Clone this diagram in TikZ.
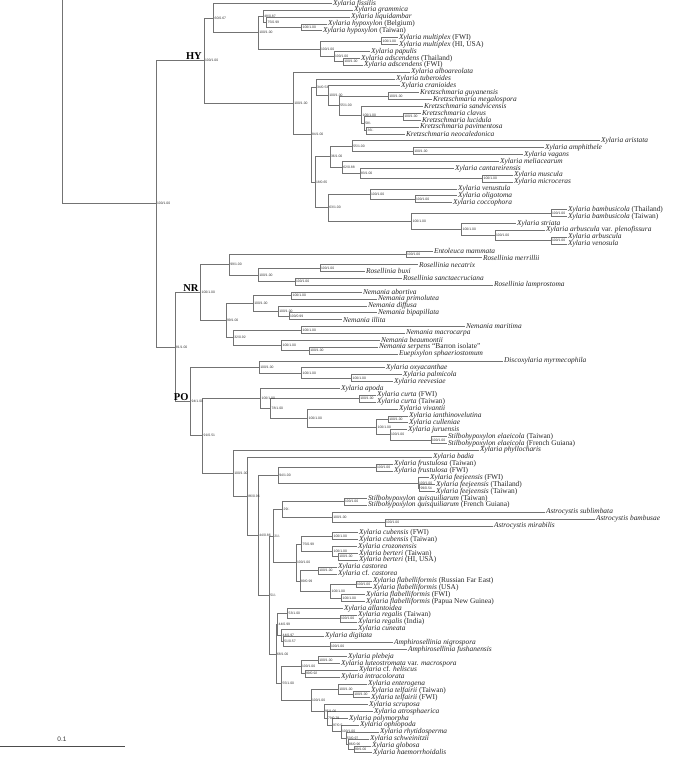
\documentclass[tikz,border=0pt]{standalone}
\usepackage{fontspec}
\setmainfont{Liberation Serif}
\newfontfamily\supfont{Liberation Sans}
\tikzset{
  branch/.style={draw=black!55, line width=0.6pt},
  taxon/.style={anchor=west, inner sep=0.8pt, font=\fontsize{7.4}{8}\selectfont, text=black!85},
  supp/.style={anchor=west, inner sep=0pt, xshift=0.8pt, font=\supfont\fontsize{3.4}{3.6}\selectfont, text=black!80},
  clade/.style={anchor=south east, inner sep=0.5pt, xshift=-1.5pt, font=\bfseries\fontsize{10.5}{11}\selectfont},
}
\newcommand\sn[1]{\textit{#1}}
\begin{document}
\begin{tikzpicture}[x=1pt, y=-6.875pt]
  \useasboundingbox (0,0.52) rectangle (685,110.92);

  % taxa, one row each
  \node[taxon] (fissilis) at (332,1) {\sn{Xylaria fissilis}};
  \node[taxon] (grammica) at (353,2) {\sn{Xylaria grammica}};
  \node[taxon] (liquidambar) at (350,3) {\sn{Xylaria liquidambar}};
  \node[taxon] (hypoxylon-be) at (327,4) {\sn{Xylaria hypoxylon} (Belgium)};
  \node[taxon] (hypoxylon-tw) at (322,5) {\sn{Xylaria hypoxylon} (Taiwan)};
  \node[taxon] (multiplex-fwi) at (398,6) {\sn{Xylaria multiplex} (FWI)};
  \node[taxon] (multiplex-hi) at (398,7) {\sn{Xylaria multiplex} (HI, USA)};
  \node[taxon] (papulis) at (370,8) {\sn{Xylaria papulis}};
  \node[taxon] (adscendens-th) at (360,9) {\sn{Xylaria adscendens} (Thailand)};
  \node[taxon] (adscendens-fwi) at (363,10) {\sn{Xylaria adscendens} (FWI)};
  \node[taxon] (alboareolata) at (410,11) {\sn{Xylaria alboareolata}};
  \node[taxon] (tuberoides) at (395,12) {\sn{Xylaria tuberoides}};
  \node[taxon] (cranioides) at (400,13) {\sn{Xylaria cranioides}};
  \node[taxon] (guyanensis) at (419,14) {\sn{Kretzschmaria guyanensis}};
  \node[taxon] (megalospora) at (432,15) {\sn{Kretzschmaria megalospora}};
  \node[taxon] (sandvicensis) at (423,16) {\sn{Kretzschmaria sandvicensis}};
  \node[taxon] (clavus) at (421,17) {\sn{Kretzschmaria clavus}};
  \node[taxon] (lucidula) at (421,18) {\sn{Kretzschmaria lucidula}};
  \node[taxon] (pavimentosa) at (419,19) {\sn{Kretzschmaria pavimentosa}};
  \node[taxon] (neocaledonica) at (405,20) {\sn{Kretzschmaria neocaledonica}};
  \node[taxon] (aristata) at (600,21) {\sn{Xylaria aristata}};
  \node[taxon] (amphithele) at (544,22) {\sn{Xylaria amphithele}};
  \node[taxon] (vagans) at (523,23) {\sn{Xylaria vagans}};
  \node[taxon] (meliacearum) at (499,24) {\sn{Xylaria meliacearum}};
  \node[taxon] (cantareirensis) at (454,25) {\sn{Xylaria cantareirensis}};
  \node[taxon] (muscula) at (513,26) {\sn{Xylaria muscula}};
  \node[taxon] (microceras) at (513,27) {\sn{Xylaria microceras}};
  \node[taxon] (venustula) at (457,28) {\sn{Xylaria venustula}};
  \node[taxon] (oligotoma) at (457,29) {\sn{Xylaria oligotoma}};
  \node[taxon] (coccophora) at (452,30) {\sn{Xylaria coccophora}};
  \node[taxon] (bambusicola-th) at (567,31) {\sn{Xylaria bambusicola} (Thailand)};
  \node[taxon] (bambusicola-tw) at (567,32) {\sn{Xylaria bambusicola} (Taiwan)};
  \node[taxon] (striata) at (516,33) {\sn{Xylaria striata}};
  \node[taxon] (plenofissura) at (545,34) {\sn{Xylaria arbuscula} var. \sn{plenofissura}};
  \node[taxon] (arbuscula) at (567,35) {\sn{Xylaria arbuscula}};
  \node[taxon] (venosula) at (567,36) {\sn{Xylaria venosula}};
  \node[taxon] (entoleuca) at (433,37) {\sn{Entoleuca mammata}};
  \node[taxon] (merrillii) at (482,38) {\sn{Rosellinia merrillii}};
  \node[taxon] (necatrix) at (418,39) {\sn{Rosellinia necatrix}};
  \node[taxon] (buxi) at (365,40) {\sn{Rosellinia buxi}};
  \node[taxon] (sanctaecruciana) at (402,41) {\sn{Rosellinia sanctaecruciana}};
  \node[taxon] (lamprostoma) at (493,42) {\sn{Rosellinia lamprostoma}};
  \node[taxon] (abortiva) at (362,43) {\sn{Nemania abortiva}};
  \node[taxon] (primolutea) at (377,44) {\sn{Nemania primolutea}};
  \node[taxon] (diffusa) at (367,45) {\sn{Nemania diffusa}};
  \node[taxon] (bipapillata) at (377,46) {\sn{Nemania bipapillata}};
  \node[taxon] (illita) at (342,47) {\sn{Nemania illita}};
  \node[taxon] (maritima) at (465,48) {\sn{Nemania maritima}};
  \node[taxon] (macrocarpa) at (405,49) {\sn{Nemania macrocarpa}};
  \node[taxon] (beaumontii) at (380,50) {\sn{Nemania beaumontii}};
  \node[taxon] (serpens) at (378,51) {\sn{Nemania serpens} ``Barron isolate''};
  \node[taxon] (euepixylon) at (398,52) {\sn{Euepixylon sphaeriostomum}};
  \node[taxon] (discoxylaria) at (503,53) {\sn{Discoxylaria myrmecophila}};
  \node[taxon] (oxyacanthae) at (385,54) {\sn{Xylaria oxyacanthae}};
  \node[taxon] (palmicola) at (402,55) {\sn{Xylaria palmicola}};
  \node[taxon] (reevesiae) at (393,56) {\sn{Xylaria reevesiae}};
  \node[taxon] (apoda) at (340,57) {\sn{Xylaria apoda}};
  \node[taxon] (curta-fwi) at (376,58) {\sn{Xylaria curta} (FWI)};
  \node[taxon] (curta-tw) at (376,59) {\sn{Xylaria curta} (Taiwan)};
  \node[taxon] (vivantii) at (398,60) {\sn{Xylaria vivantii}};
  \node[taxon] (ianthinovelutina) at (408,61) {\sn{Xylaria ianthinovelutina}};
  \node[taxon] (culleniae) at (408,62) {\sn{Xylaria culleniae}};
  \node[taxon] (juruensis) at (407,63) {\sn{Xylaria juruensis}};
  \node[taxon] (elaeicola-tw) at (447,64) {\sn{Stilbohypoxylon elaeicola} (Taiwan)};
  \node[taxon] (elaeicola-fg) at (447,65) {\sn{Stilbohypoxylon elaeicola} (French Guiana)};
  \node[taxon] (phyllocharis) at (479,66) {\sn{Xylaria phyllocharis}};
  \node[taxon] (badia) at (432,67) {\sn{Xylaria badia}};
  \node[taxon] (frustulosa-tw) at (393,68) {\sn{Xylaria frustulosa} (Taiwan)};
  \node[taxon] (frustulosa-fwi) at (393,69) {\sn{Xylaria frustulosa} (FWI)};
  \node[taxon] (feejeensis-fwi) at (429,70) {\sn{Xylaria feejeensis} (FWI)};
  \node[taxon] (feejeensis-th) at (435,71) {\sn{Xylaria feejeensis} (Thailand)};
  \node[taxon] (feejeensis-tw) at (435,72) {\sn{Xylaria feejeensis} (Taiwan)};
  \node[taxon] (quisquiliarum-tw) at (367,73) {\sn{Stilbohypoxylon quisquiliarum} (Taiwan)};
  \node[taxon] (quisquiliarum-fg) at (367,74) {\sn{Stilbohypoxylon quisquiliarum} (French Guiana)};
  \node[taxon] (sublimbata) at (545,75) {\sn{Astrocystis sublimbata}};
  \node[taxon] (bambusae) at (595,76) {\sn{Astrocystis bambusae}};
  \node[taxon] (mirabilis) at (493,77) {\sn{Astrocystis mirabilis}};
  \node[taxon] (cubensis-fwi) at (358,78) {\sn{Xylaria cubensis} (FWI)};
  \node[taxon] (cubensis-tw) at (358,79) {\sn{Xylaria cubensis} (Taiwan)};
  \node[taxon] (crozonensis) at (357,80) {\sn{Xylaria crozonensis}};
  \node[taxon] (berteri-tw) at (358,81) {\sn{Xylaria berteri} (Taiwan)};
  \node[taxon] (berteri-hi) at (358,82) {\sn{Xylaria berteri} (HI, USA)};
  \node[taxon] (castorea) at (337,83) {\sn{Xylaria castorea}};
  \node[taxon] (cf-castorea) at (337,84) {\sn{Xylaria} cf. \sn{castorea}};
  \node[taxon] (flab-rfe) at (372,85) {\sn{Xylaria flabelliformis} (Russian Far East)};
  \node[taxon] (flab-usa) at (372,86) {\sn{Xylaria flabelliformis} (USA)};
  \node[taxon] (flab-fwi) at (365,87) {\sn{Xylaria flabelliformis} (FWI)};
  \node[taxon] (flab-png) at (365,88) {\sn{Xylaria flabelliformis} (Papua New Guinea)};
  \node[taxon] (allantoidea) at (343,89) {\sn{Xylaria allantoidea}};
  \node[taxon] (regalis-tw) at (357,90) {\sn{Xylaria regalis} (Taiwan)};
  \node[taxon] (regalis-in) at (357,91) {\sn{Xylaria regalis} (India)};
  \node[taxon] (cuneata) at (357,92) {\sn{Xylaria cuneata}};
  \node[taxon] (digitata) at (324,93) {\sn{Xylaria digitata}};
  \node[taxon] (nigrospora) at (393,94) {\sn{Amphirosellinia nigrospora}};
  \node[taxon] (fushanensis) at (407,95) {\sn{Amphirosellinia fushanensis}};
  \node[taxon] (plebeja) at (347,96) {\sn{Xylaria plebeja}};
  \node[taxon] (luteostromata) at (340,97) {\sn{Xylaria luteostromata} var. \sn{macrospora}};
  \node[taxon] (heliscus) at (358,98) {\sn{Xylaria} cf. \sn{heliscus}};
  \node[taxon] (intracolorata) at (340,99) {\sn{Xylaria intracolorata}};
  \node[taxon] (enterogena) at (367,100) {\sn{Xylaria enterogena}};
  \node[taxon] (telfairii-tw) at (370,101) {\sn{Xylaria telfairii} (Taiwan)};
  \node[taxon] (telfairii-fwi) at (370,102) {\sn{Xylaria telfairii} (FWI)};
  \node[taxon] (scruposa) at (368,103) {\sn{Xylaria scruposa}};
  \node[taxon] (atrosphaerica) at (373,104) {\sn{Xylaria atrosphaerica}};
  \node[taxon] (polymorpha) at (348,105) {\sn{Xylaria polymorpha}};
  \node[taxon] (ophiopoda) at (359,106) {\sn{Xylaria ophiopoda}};
  \node[taxon] (rhytidosperma) at (379,107) {\sn{Xylaria rhytidosperma}};
  \node[taxon] (schweinitzii) at (369,108) {\sn{Xylaria schweinitzii}};
  \node[taxon] (globosa) at (371,109) {\sn{Xylaria globosa}};
  \node[taxon] (haemorrhoidalis) at (372,110) {\sn{Xylaria haemorrhoidalis}};

  % internal nodes
  \coordinate (root-top) at (62,0.52);
  \coordinate (n-root) at (156,30.157);
  \coordinate (n-hy) at (204,9.342);
  \coordinate (n-a) at (213.7,3.125);
  \coordinate (n-b) at (258.3,5.25);
  \coordinate (n-c) at (263.3,2.875);
  \coordinate (n-d) at (266.7,3.75);
  \coordinate (n-e) at (301.7,4.5);
  \coordinate (n-f) at (320,7.625);
  \coordinate (n-g) at (381.7,6.5);
  \coordinate (n-h) at (334,8.75);
  \coordinate (n-i) at (343.3,9.5);
  \coordinate (n-j) at (293.3,15.559);
  \coordinate (n-k) at (311,20.117);
  \coordinate (n-x) at (316,13.219);
  \coordinate (n-m) at (328.3,14.438);
  \coordinate (n-o) at (339.3,15.875);
  \coordinate (n-n) at (388.3,14.5);
  \coordinate (n-p) at (361.7,17.25);
  \coordinate (n-r) at (364.3,18.5);
  \coordinate (n-q) at (403.3,17.5);
  \coordinate (n-s) at (366.7,19.5);
  \coordinate (n-t) at (315,27.016);
  \coordinate (n-u) at (330,23.3125);
  \coordinate (n-w) at (352.3,21.75);
  \coordinate (n-z) at (413.3,22.5);
  \coordinate (n-y) at (342.3,24.875);
  \coordinate (n-y2) at (360,25.75);
  \coordinate (n-y3) at (482.7,26.5);
  \coordinate (n-v) at (328.3,30.719);
  \coordinate (n-v1) at (370,28.75);
  \coordinate (n-v2) at (415,29.5);
  \coordinate (n-v3) at (411.7,32.6875);
  \coordinate (n-v4) at (551,31.5);
  \coordinate (n-v5) at (461.7,33.875);
  \coordinate (n-v6) at (495,34.75);
  \coordinate (n-v7) at (551,35.5);
  \coordinate (n-nrpo) at (175,50.973);
  \coordinate (n-nr) at (200.7,43.0625);
  \coordinate (n-nr1) at (229.3,39);
  \coordinate (n-nr1a) at (406,37.5);
  \coordinate (n-nr1b) at (258.3,40.5);
  \coordinate (n-nr1c) at (320,39.5);
  \coordinate (n-nr1d) at (295,41.5);
  \coordinate (n-nr2) at (226,47.125);
  \coordinate (n-nr2a) at (253.3,44.625);
  \coordinate (n-nr2b) at (291.7,43.5);
  \coordinate (n-nr2c) at (278.3,45.75);
  \coordinate (n-nr2d) at (289,46.5);
  \coordinate (n-nr2e) at (233.3,49.625);
  \coordinate (n-nr2f) at (301.7,48.5);
  \coordinate (n-nr2g) at (281.7,50.75);
  \coordinate (n-nr2h) at (309.3,51.5);
  \coordinate (n-po) at (190.7,58.884);
  \coordinate (n-po1) at (259.3,53.875);
  \coordinate (n-po1b) at (301.7,54.75);
  \coordinate (n-po1c) at (351.7,55.5);
  \coordinate (n-po2) at (202.7,63.894);
  \coordinate (n-po2a) at (260.7,58.453);
  \coordinate (n-po2b) at (270.7,59.906);
  \coordinate (n-po2c) at (359.3,58.5);
  \coordinate (n-po2d) at (307.7,61.3125);
  \coordinate (n-po2e) at (376.7,62.625);
  \coordinate (n-po2f) at (388.3,61.5);
  \coordinate (n-po2g) at (390,63.75);
  \coordinate (n-po2h) at (431,64.5);
  \coordinate (n-po3) at (233.3,69.334);
  \coordinate (n-po4) at (247.3,72.668);
  \coordinate (n-po5) at (258.3,78.336);
  \coordinate (n-po6) at (278.3,69.625);
  \coordinate (n-po6a) at (376,68.5);
  \coordinate (n-po6b) at (418,70.75);
  \coordinate (n-po6c) at (419.5,71.5);
  \coordinate (n-po7) at (269.3,87.046);
  \coordinate (n-po8) at (273.3,78.469);
  \coordinate (n-po8a) at (282.7,74.625);
  \coordinate (n-po8c) at (344,73.5);
  \coordinate (n-po8d) at (332.3,75.75);
  \coordinate (n-po8e) at (385,76.5);
  \coordinate (n-po8b) at (296,82.3125);
  \coordinate (n-po8f) at (301.7,79.625);
  \coordinate (n-po8h) at (332.7,78.5);
  \coordinate (n-po8i) at (332.7,80.75);
  \coordinate (n-po8j) at (338.3,81.5);
  \coordinate (n-po8g) at (300,85);
  \coordinate (n-po8k) at (318.3,83.5);
  \coordinate (n-po8l) at (330.7,86.5);
  \coordinate (n-po8m) at (356,85.5);
  \coordinate (n-po8n) at (341.7,87.5);
  \coordinate (n-po9) at (276,95.624);
  \coordinate (n-po9a) at (277.7,91.3125);
  \coordinate (n-po9c) at (287.7,89.75);
  \coordinate (n-po9d) at (340,90.5);
  \coordinate (n-po9e) at (281.7,92.875);
  \coordinate (n-po9f) at (283.3,93.75);
  \coordinate (n-po9g) at (330,94.5);
  \coordinate (n-po9b) at (281.7,99.936);
  \coordinate (n-po9h) at (301,97.5);
  \coordinate (n-po9i) at (318.3,96.5);
  \coordinate (n-po9j) at (305,98.5);
  \coordinate (n-po9k) at (311,102.371);
  \coordinate (n-po9l) at (338.3,100.75);
  \coordinate (n-po9m) at (353.3,101.5);
  \coordinate (n-l1) at (324,103.992);
  \coordinate (n-l2) at (327,104.984);
  \coordinate (n-l3) at (332,105.969);
  \coordinate (n-l4) at (341,106.9375);
  \coordinate (n-l5) at (346,107.875);
  \coordinate (n-l6) at (348,108.75);
  \coordinate (n-l7) at (354,109.5);

  % branches
  \draw[branch] (root-top) |- (n-root);
  \draw[branch] (n-root) |- (n-hy) (n-root) |- (n-nrpo);
  \draw[branch] (n-hy) |- (n-a) (n-hy) |- (n-j);
  \draw[branch] (n-a) |- (fissilis.west) (n-a) |- (n-b);
  \draw[branch] (n-b) |- (n-c) (n-b) |- (n-f);
  \draw[branch] (n-c) |- (grammica.west) (n-c) |- (n-d);
  \draw[branch] (n-d) |- (liquidambar.west) (n-d) |- (n-e);
  \draw[branch] (n-e) |- (hypoxylon-be.west) (n-e) |- (hypoxylon-tw.west);
  \draw[branch] (n-f) |- (n-g) (n-f) |- (n-h);
  \draw[branch] (n-g) |- (multiplex-fwi.west) (n-g) |- (multiplex-hi.west);
  \draw[branch] (n-h) |- (papulis.west) (n-h) |- (n-i);
  \draw[branch] (n-i) |- (adscendens-th.west) (n-i) |- (adscendens-fwi.west);
  \draw[branch] (n-j) |- (alboareolata.west) (n-j) |- (n-k);
  \draw[branch] (n-k) |- (n-x) (n-k) |- (n-t);
  \draw[branch] (n-x) |- (tuberoides.west) (n-x) |- (n-m);
  \draw[branch] (n-m) |- (cranioides.west) (n-m) |- (n-o);
  \draw[branch] (n-o) |- (n-n) (n-o) |- (n-p);
  \draw[branch] (n-n) |- (guyanensis.west) (n-n) |- (megalospora.west);
  \draw[branch] (n-p) |- (sandvicensis.west) (n-p) |- (n-r);
  \draw[branch] (n-r) |- (n-q) (n-r) |- (n-s);
  \draw[branch] (n-q) |- (clavus.west) (n-q) |- (lucidula.west);
  \draw[branch] (n-s) |- (pavimentosa.west) (n-s) |- (neocaledonica.west);
  \draw[branch] (n-t) |- (n-u) (n-t) |- (n-v);
  \draw[branch] (n-u) |- (n-w) (n-u) |- (n-y);
  \draw[branch] (n-w) |- (aristata.west) (n-w) |- (n-z);
  \draw[branch] (n-z) |- (amphithele.west) (n-z) |- (vagans.west);
  \draw[branch] (n-y) |- (meliacearum.west) (n-y) |- (n-y2);
  \draw[branch] (n-y2) |- (cantareirensis.west) (n-y2) |- (n-y3);
  \draw[branch] (n-y3) |- (muscula.west) (n-y3) |- (microceras.west);
  \draw[branch] (n-v) |- (n-v1) (n-v) |- (n-v3);
  \draw[branch] (n-v1) |- (venustula.west) (n-v1) |- (n-v2);
  \draw[branch] (n-v2) |- (oligotoma.west) (n-v2) |- (coccophora.west);
  \draw[branch] (n-v3) |- (n-v4) (n-v3) |- (n-v5);
  \draw[branch] (n-v4) |- (bambusicola-th.west) (n-v4) |- (bambusicola-tw.west);
  \draw[branch] (n-v5) |- (striata.west) (n-v5) |- (n-v6);
  \draw[branch] (n-v6) |- (plenofissura.west) (n-v6) |- (n-v7);
  \draw[branch] (n-v7) |- (arbuscula.west) (n-v7) |- (venosula.west);
  \draw[branch] (n-nrpo) |- (n-nr) (n-nrpo) |- (n-po);
  \draw[branch] (n-nr) |- (n-nr1) (n-nr) |- (n-nr2);
  \draw[branch] (n-nr1) |- (n-nr1a) (n-nr1) |- (n-nr1b);
  \draw[branch] (n-nr1a) |- (entoleuca.west) (n-nr1a) |- (merrillii.west);
  \draw[branch] (n-nr1b) |- (n-nr1c) (n-nr1b) |- (n-nr1d);
  \draw[branch] (n-nr1c) |- (necatrix.west) (n-nr1c) |- (buxi.west);
  \draw[branch] (n-nr1d) |- (sanctaecruciana.west) (n-nr1d) |- (lamprostoma.west);
  \draw[branch] (n-nr2) |- (n-nr2a) (n-nr2) |- (n-nr2e);
  \draw[branch] (n-nr2a) |- (n-nr2b) (n-nr2a) |- (n-nr2c);
  \draw[branch] (n-nr2b) |- (abortiva.west) (n-nr2b) |- (primolutea.west);
  \draw[branch] (n-nr2c) |- (diffusa.west) (n-nr2c) |- (n-nr2d);
  \draw[branch] (n-nr2d) |- (bipapillata.west) (n-nr2d) |- (illita.west);
  \draw[branch] (n-nr2e) |- (n-nr2f) (n-nr2e) |- (n-nr2g);
  \draw[branch] (n-nr2f) |- (maritima.west) (n-nr2f) |- (macrocarpa.west);
  \draw[branch] (n-nr2g) |- (beaumontii.west) (n-nr2g) |- (n-nr2h);
  \draw[branch] (n-nr2h) |- (serpens.west) (n-nr2h) |- (euepixylon.west);
  \draw[branch] (n-po) |- (n-po1) (n-po) |- (n-po2);
  \draw[branch] (n-po1) |- (discoxylaria.west) (n-po1) |- (n-po1b);
  \draw[branch] (n-po1b) |- (oxyacanthae.west) (n-po1b) |- (n-po1c);
  \draw[branch] (n-po1c) |- (palmicola.west) (n-po1c) |- (reevesiae.west);
  \draw[branch] (n-po2) |- (n-po2a) (n-po2) |- (n-po3);
  \draw[branch] (n-po2a) |- (apoda.west) (n-po2a) |- (n-po2b);
  \draw[branch] (n-po2b) |- (n-po2c) (n-po2b) |- (n-po2d);
  \draw[branch] (n-po2c) |- (curta-fwi.west) (n-po2c) |- (curta-tw.west);
  \draw[branch] (n-po2d) |- (vivantii.west) (n-po2d) |- (n-po2e);
  \draw[branch] (n-po2e) |- (n-po2f) (n-po2e) |- (n-po2g);
  \draw[branch] (n-po2f) |- (ianthinovelutina.west) (n-po2f) |- (culleniae.west);
  \draw[branch] (n-po2g) |- (juruensis.west) (n-po2g) |- (n-po2h);
  \draw[branch] (n-po2h) |- (elaeicola-tw.west) (n-po2h) |- (elaeicola-fg.west);
  \draw[branch] (n-po3) |- (phyllocharis.west) (n-po3) |- (n-po4);
  \draw[branch] (n-po4) |- (badia.west) (n-po4) |- (n-po5);
  \draw[branch] (n-po5) |- (n-po6) (n-po5) |- (n-po7);
  \draw[branch] (n-po6) |- (n-po6a) (n-po6) |- (n-po6b);
  \draw[branch] (n-po6a) |- (frustulosa-tw.west) (n-po6a) |- (frustulosa-fwi.west);
  \draw[branch] (n-po6b) |- (feejeensis-fwi.west) (n-po6b) |- (n-po6c);
  \draw[branch] (n-po6c) |- (feejeensis-th.west) (n-po6c) |- (feejeensis-tw.west);
  \draw[branch] (n-po7) |- (n-po8) (n-po7) |- (n-po9);
  \draw[branch] (n-po8) |- (n-po8a) (n-po8) |- (n-po8b);
  \draw[branch] (n-po8a) |- (n-po8c) (n-po8a) |- (n-po8d);
  \draw[branch] (n-po8c) |- (quisquiliarum-tw.west) (n-po8c) |- (quisquiliarum-fg.west);
  \draw[branch] (n-po8d) |- (sublimbata.west) (n-po8d) |- (n-po8e);
  \draw[branch] (n-po8e) |- (bambusae.west) (n-po8e) |- (mirabilis.west);
  \draw[branch] (n-po8b) |- (n-po8f) (n-po8b) |- (n-po8g);
  \draw[branch] (n-po8f) |- (n-po8h) (n-po8f) |- (n-po8i);
  \draw[branch] (n-po8h) |- (cubensis-fwi.west) (n-po8h) |- (cubensis-tw.west);
  \draw[branch] (n-po8i) |- (crozonensis.west) (n-po8i) |- (n-po8j);
  \draw[branch] (n-po8j) |- (berteri-tw.west) (n-po8j) |- (berteri-hi.west);
  \draw[branch] (n-po8g) |- (n-po8k) (n-po8g) |- (n-po8l);
  \draw[branch] (n-po8k) |- (castorea.west) (n-po8k) |- (cf-castorea.west);
  \draw[branch] (n-po8l) |- (n-po8m) (n-po8l) |- (n-po8n);
  \draw[branch] (n-po8m) |- (flab-rfe.west) (n-po8m) |- (flab-usa.west);
  \draw[branch] (n-po8n) |- (flab-fwi.west) (n-po8n) |- (flab-png.west);
  \draw[branch] (n-po9) |- (n-po9a) (n-po9) |- (n-po9b);
  \draw[branch] (n-po9a) |- (n-po9c) (n-po9a) |- (n-po9e);
  \draw[branch] (n-po9c) |- (allantoidea.west) (n-po9c) |- (n-po9d);
  \draw[branch] (n-po9d) |- (regalis-tw.west) (n-po9d) |- (regalis-in.west);
  \draw[branch] (n-po9e) |- (cuneata.west) (n-po9e) |- (n-po9f);
  \draw[branch] (n-po9f) |- (digitata.west) (n-po9f) |- (n-po9g);
  \draw[branch] (n-po9g) |- (nigrospora.west) (n-po9g) |- (fushanensis.west);
  \draw[branch] (n-po9b) |- (n-po9h) (n-po9b) |- (n-po9k);
  \draw[branch] (n-po9h) |- (n-po9i) (n-po9h) |- (n-po9j);
  \draw[branch] (n-po9i) |- (plebeja.west) (n-po9i) |- (luteostromata.west);
  \draw[branch] (n-po9j) |- (heliscus.west) (n-po9j) |- (intracolorata.west);
  \draw[branch] (n-po9k) |- (n-po9l) (n-po9k) |- (n-l1);
  \draw[branch] (n-po9l) |- (enterogena.west) (n-po9l) |- (n-po9m);
  \draw[branch] (n-po9m) |- (telfairii-tw.west) (n-po9m) |- (telfairii-fwi.west);
  \draw[branch] (n-l1) |- (scruposa.west) (n-l1) |- (n-l2);
  \draw[branch] (n-l2) |- (atrosphaerica.west) (n-l2) |- (n-l3);
  \draw[branch] (n-l3) |- (polymorpha.west) (n-l3) |- (n-l4);
  \draw[branch] (n-l4) |- (ophiopoda.west) (n-l4) |- (n-l5);
  \draw[branch] (n-l5) |- (rhytidosperma.west) (n-l5) |- (n-l6);
  \draw[branch] (n-l6) |- (schweinitzii.west) (n-l6) |- (n-l7);
  \draw[branch] (n-l7) |- (globosa.west) (n-l7) |- (haemorrhoidalis.west);

  % support values (bootstrap / posterior)
  \node[supp] (s-root) at (n-root) {100/1.00};
  \node[supp] (s-hy) at (n-hy) {100/1.00};
  \node[supp] (s-a) at (n-a) {60/0.67};
  \node[supp] (s-b) at (n-b) {100/1.00};
  \node[supp] (s-c) at (n-c) {48/0.87};
  \node[supp] (s-d) at (n-d) {75/0.99};
  \node[supp] (s-e) at (n-e) {100/1.00};
  \node[supp] (s-f) at (n-f) {100/1.00};
  \node[supp] (s-g) at (n-g) {100/1.00};
  \node[supp] (s-h) at (n-h) {100/1.00};
  \node[supp] (s-i) at (n-i) {100/1.00};
  \node[supp] (s-j) at (n-j) {100/1.00};
  \node[supp] (s-k) at (n-k) {84/1.00};
  \node[supp] (s-x) at (n-x) {34/0.53};
  \node[supp] (s-m) at (n-m) {100/1.00};
  \node[supp] (s-o) at (n-o) {55/1.00};
  \node[supp] (s-n) at (n-n) {100/1.00};
  \node[supp] (s-p) at (n-p) {100/1.00};
  \node[supp] (s-r) at (n-r) {58/-};
  \node[supp] (s-q) at (n-q) {100/1.00};
  \node[supp] (s-s) at (n-s) {36/-};
  \node[supp] (s-t) at (n-t) {18/0.65};
  \node[supp] (s-u) at (n-u) {36/1.00};
  \node[supp] (s-w) at (n-w) {55/1.00};
  \node[supp] (s-z) at (n-z) {100/1.00};
  \node[supp] (s-y) at (n-y) {62/0.88};
  \node[supp] (s-y2) at (n-y2) {83/1.00};
  \node[supp] (s-y3) at (n-y3) {100/1.00};
  \node[supp] (s-v) at (n-v) {63/1.00};
  \node[supp] (s-v1) at (n-v1) {100/1.00};
  \node[supp] (s-v2) at (n-v2) {100/1.00};
  \node[supp] (s-v3) at (n-v3) {100/1.00};
  \node[supp] (s-v4) at (n-v4) {100/1.00};
  \node[supp] (s-v5) at (n-v5) {100/1.00};
  \node[supp] (s-v6) at (n-v6) {100/1.00};
  \node[supp] (s-v7) at (n-v7) {100/1.00};
  \node[supp] (s-nrpo) at (n-nrpo) {81/1.00};
  \node[supp] (s-nr) at (n-nr) {100/1.00};
  \node[supp] (s-nr1) at (n-nr1) {99/1.00};
  \node[supp] (s-nr1a) at (n-nr1a) {100/1.00};
  \node[supp] (s-nr1b) at (n-nr1b) {100/1.00};
  \node[supp] (s-nr1c) at (n-nr1c) {100/1.00};
  \node[supp] (s-nr1d) at (n-nr1d) {100/1.00};
  \node[supp] (s-nr2) at (n-nr2) {99/1.00};
  \node[supp] (s-nr2a) at (n-nr2a) {100/1.00};
  \node[supp] (s-nr2b) at (n-nr2b) {100/1.00};
  \node[supp] (s-nr2c) at (n-nr2c) {100/1.00};
  \node[supp] (s-nr2d) at (n-nr2d) {100/0.99};
  \node[supp] (s-nr2e) at (n-nr2e) {32/0.92};
  \node[supp] (s-nr2f) at (n-nr2f) {100/1.00};
  \node[supp] (s-nr2g) at (n-nr2g) {100/1.00};
  \node[supp] (s-nr2h) at (n-nr2h) {100/1.00};
  \node[supp] (s-po) at (n-po) {94/1.00};
  \node[supp] (s-po1) at (n-po1) {100/1.00};
  \node[supp] (s-po1b) at (n-po1b) {100/1.00};
  \node[supp] (s-po1c) at (n-po1c) {100/1.00};
  \node[supp] (s-po2) at (n-po2) {91/0.51};
  \node[supp] (s-po2a) at (n-po2a) {100/1.00};
  \node[supp] (s-po2b) at (n-po2b) {78/1.00};
  \node[supp] (s-po2c) at (n-po2c) {100/1.00};
  \node[supp] (s-po2d) at (n-po2d) {100/1.00};
  \node[supp] (s-po2e) at (n-po2e) {100/1.00};
  \node[supp] (s-po2f) at (n-po2f) {100/1.00};
  \node[supp] (s-po2g) at (n-po2g) {100/1.00};
  \node[supp] (s-po2h) at (n-po2h) {100/1.00};
  \node[supp] (s-po3) at (n-po3) {100/1.00};
  \node[supp] (s-po4) at (n-po4) {86/0.96};
  \node[supp] (s-po5) at (n-po5) {44/0.86};
  \node[supp] (s-po6) at (n-po6) {94/1.00};
  \node[supp] (s-po6a) at (n-po6a) {100/1.00};
  \node[supp] (s-po6b) at (n-po6b) {100/1.00};
  \node[supp] (s-po6c) at (n-po6c) {99/0.54};
  \node[supp] (s-po7) at (n-po7) {51/-};
  \node[supp] (s-po8) at (n-po8) {21/-};
  \node[supp] (s-po8a) at (n-po8a) {29/-};
  \node[supp] (s-po8c) at (n-po8c) {100/1.00};
  \node[supp] (s-po8d) at (n-po8d) {100/1.00};
  \node[supp] (s-po8e) at (n-po8e) {100/1.00};
  \node[supp] (s-po8b) at (n-po8b) {100/1.00};
  \node[supp] (s-po8f) at (n-po8f) {75/0.99};
  \node[supp] (s-po8h) at (n-po8h) {100/1.00};
  \node[supp] (s-po8i) at (n-po8i) {100/1.00};
  \node[supp] (s-po8j) at (n-po8j) {100/1.00};
  \node[supp] (s-po8g) at (n-po8g) {89/0.99};
  \node[supp] (s-po8k) at (n-po8k) {100/1.00};
  \node[supp] (s-po8l) at (n-po8l) {100/1.00};
  \node[supp] (s-po8m) at (n-po8m) {100/1.00};
  \node[supp] (s-po8n) at (n-po8n) {100/1.00};
  \node[supp] (s-po9) at (n-po9) {68/1.00};
  \node[supp] (s-po9a) at (n-po9a) {44/0.99};
  \node[supp] (s-po9c) at (n-po9c) {53/1.00};
  \node[supp] (s-po9d) at (n-po9d) {100/1.00};
  \node[supp] (s-po9e) at (n-po9e) {44/0.97};
  \node[supp] (s-po9f) at (n-po9f) {51/0.57};
  \node[supp] (s-po9g) at (n-po9g) {100/1.00};
  \node[supp] (s-po9b) at (n-po9b) {55/1.00};
  \node[supp] (s-po9h) at (n-po9h) {100/1.00};
  \node[supp] (s-po9i) at (n-po9i) {100/1.00};
  \node[supp] (s-po9j) at (n-po9j) {99/0.92};
  \node[supp] (s-po9k) at (n-po9k) {100/1.00};
  \node[supp] (s-po9l) at (n-po9l) {100/1.00};
  \node[supp] (s-po9m) at (n-po9m) {100/1.00};
  \node[supp] (s-l1) at (n-l1) {95/1.00};
  \node[supp] (s-l2) at (n-l2) {79/0.79};
  \node[supp] (s-l3) at (n-l3) {97/0.5};
  \node[supp] (s-l4) at (n-l4) {100/1.00};
  \node[supp] (s-l5) at (n-l5) {53/0.97};
  \node[supp] (s-l6) at (n-l6) {86/0.96};
  \node[supp] (s-l7) at (n-l7) {99/1.00};

  % clade names
  \node[clade] (hy-name) at (n-hy) {HY};
  \node[clade] (nr-name) at (n-nr) {NR};
  \node[clade] (po-name) at (n-po) {PO};

  % scale bar
  \coordinate (bar-l) at (0,109.03);
  \coordinate (bar-r) at (125,109.03);
  \draw[branch, draw=black!70] (bar-l) -- (bar-r);
  \node[font=\supfont\fontsize{6.5}{7}\selectfont, text=black!80] (bar-label) at (62,108.0) {0.1};
\end{tikzpicture}
\end{document}
